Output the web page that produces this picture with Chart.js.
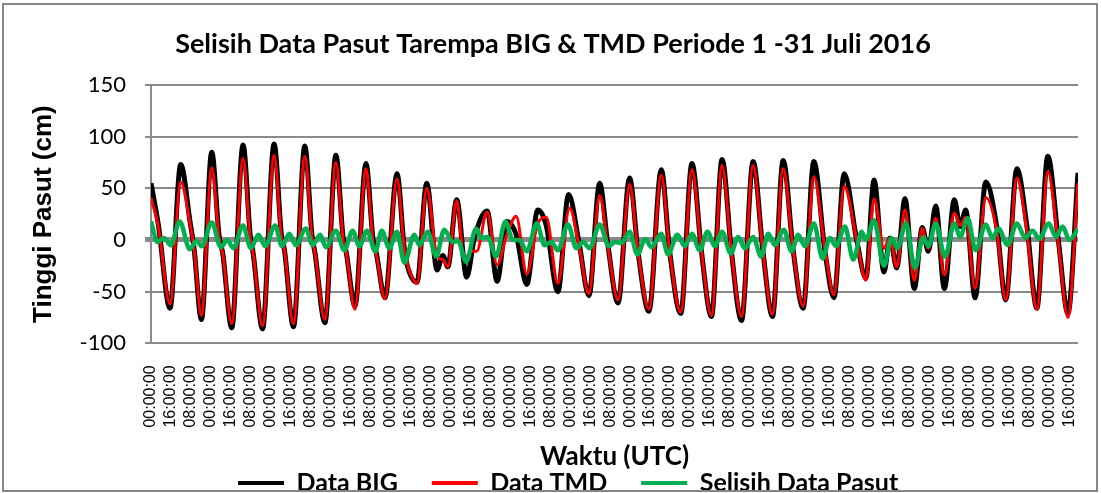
<!DOCTYPE html>
<html>
<head>
<meta charset="utf-8">
<script src="https://cdn.jsdelivr.net/npm/chart.js@4.4.0/dist/chart.umd.min.js"></script>
<style>
  html, body { margin: 0; padding: 0; background: #ffffff; }
  canvas { display: block; }
</style>
</head>
<body>
<canvas id="c" width="1101" height="493"></canvas>
<script>
// ---- Data (hours since 1 Juli 2016 00:00 UTC, tide height in cm) ----
const bigHours = [0,6,15.2,23.8,31.5,34.5,40.4,48.7,54.5,57.5,64.7,73.8,79.5,82,89.4,98.7,104.5,107,114.2,123.3,129,131.5,139.4,148.2,154,156.5,163.5,172.3,178,180.5,187.5,197.2,203,205.7,213.2,221,229.3,233.9,237.9,245,253,259.2,269.4,277.4,285.2,292.7,301.2,310,316.8,326.1,334.7,343,351,359.6,366,374.3,383.6,390.3,399.1,409,415.7,424.6,433.6,441.2,449.2,457.7,465.2,473.3,482.6,490.5,498.1,506.7,514.7,522.7,531.3,540.1,547.4,555.6,565.6,573,579.5,587.5,592.3,597.7,604.3,611.8,618.2,623,629,635.9,643.9,648.5,653,660.5,669.1,678,685.1,694,702,710,718.8,727.4,734.9,743];
const bigValues = [55,14,-66,73,16,-8,-77,85,5,-13,-85,92,5,-14,-86,93,5,-10,-84,91,5,-13,-80,82,2,-12,-64,74,0,-12,-56,64,-8,-26,-41,55,-29,-15,-26,39,-36,2,28,-40,18,5,-43,29,14,-50,44,-2,-54,55,-3,-61,60,-11,-69,68,-11,-71,74,-11,-74,78,-11,-78,76,-11,-74,77,-10,-66,76,-10,-56,64,0,-37,58,-31,2,-27,40,-47,12,-11,33,-47,39,13,29,-56,56,12,-58,69,14,-66,81,-2,-71,65];

const tmdHours = [0,6,15.2,23.8,31.5,34.5,40.4,48.7,54.5,57.5,64.7,73.8,79.5,82,89.4,98.7,104.5,107,114.2,123.3,129,131.5,139.4,148.2,154,156.5,163.5,172.3,178,180.5,187.5,197.2,203,205.7,213.2,221,229.3,233.9,237.9,245,251,257,261,269.4,277.4,285.2,292.7,301.2,310,316.8,326.1,335.5,343,351,359.6,366,374.3,383.6,390.3,399.1,409,415.7,424.6,433.6,441.2,449.2,457.7,465.2,473.3,482.6,490.5,498.1,506.7,514.7,522.7,531.3,540.1,547.4,555.6,565.6,573,579.5,587.5,592.3,597.7,604.3,611.8,618.2,623,629,635.9,643.9,648.5,653,660.5,669.1,678,685.1,694,702,710,718.8,727.4,734.9,743];
const tmdValues = [41,12,-62,56,14,-8,-73,70,3,-13,-81,79,2,-14,-83,82,3,-10,-81,81,3,-13,-77,75,0,-12,-67,69,-2,-13,-57,59,-8,-24,-42,50,-16,-19,-26,38,-19,-11,-11,27,-24,5,23,-33,16,22,-42,31,-5,-52,43,-5,-58,54,-11,-67,63,-11,-70,68,-11,-73,72,-11,-74,72,-11,-72,69,-10,-64,61,-8,-53,52,0,-39,40,-8,2,-26,29,-39,11,-8,21,-34,26,14,22,-47,41,8,-58,60,8,-67,66,-5,-75,55];

const difHours = [0,5.1,10.4,15.8,23,31,36.4,40.7,48.7,55.9,61.3,66,73.8,80,86.1,91.5,99.5,104.9,110.8,116.1,124.1,129.5,135.6,140.2,148.2,154.9,161.6,166.9,173.1,179.8,184.9,191,197.2,203.1,211.1,215.1,221.8,228.5,235.1,241.8,246,252.6,260.6,264.6,269.9,276.6,284.1,289.9,295.3,301.2,309.2,315.4,320.8,326.1,334.2,340.9,346.2,351.6,359.6,367,371.6,376.9,383.6,389.8,396.2,401,409,414.4,421.9,427.8,433.6,439.8,446,451.9,457.7,464.7,470.6,476,482.6,489,494.7,500,507.2,513.4,518.7,524.1,531.3,538.3,544.1,549,556.2,562.9,569.6,573,579.5,587.5,593.6,598.2,605.1,612.3,619,623,629,636.4,643.9,648.5,654.6,661,669.1,674.5,679.3,686.7,694,700.7,706.6,712,719.5,725.4,730.7,736.1,743];
const difValues = [18,-2,2,-5,18,-9,-1,-6,17,-7,0,-8,14,-8,5,-6,14,-6,6,-5,11,-5,5,-7,9,-10,9,-6,9,-11,9,-8,8,-22,5,-5,8,-16,10,-2,-1,-21,11,2,3,-16,18,0,0,-11,16,-5,-2,-10,15,-8,-2,-8,15,-6,-2,-3,8,-14,1,-7,6,-14,5,-6,6,-10,8,-6,8,-13,3,-8,3,-16,6,-5,10,-11,5,-6,16,-18,2,-6,13,-19,8,0,19,-25,2,-8,16,-27,3,-6,16,-16,16,3,21,-10,15,2,11,-5,16,2,9,1,16,3,13,0,11];

const tickHours = [0,16,32,48,64,80,96,112,128,144,160,176,192,208,224,240,256,272,288,304,320,336,352,368,384,400,416,432,448,464,480,496,512,528,544,560,576,592,608,624,640,656,672,688,704,720,736];
const tickLabelCycle = ['00:00:00', '16:00:00', '08:00:00'];
const yTicks = [-100, -50, 0, 50, 100, 150];

const seriesNames = ['Data BIG', 'Data TMD', 'Selisih Data Pasut'];
const chartTitle = 'Selisih Data Pasut Tarempa BIG & TMD Periode 1 -31 Juli 2016';
const yTitle = 'Tinggi Pasut (cm)';
const xTitle = 'Waktu (UTC)';

const toPts = (hs, vs) => hs.map((h, i) => ({ x: h, y: vs[i] }));

const GRID = '#8a8a8a';

const framePlugin = {
  id: 'frame',
  beforeDraw(chart) {
    const c = chart.ctx;
    c.save();
    c.fillStyle = '#ffffff';
    c.fillRect(0, 0, chart.width, chart.height);
    c.restore();
  },
  afterDraw(chart) {
    const c = chart.ctx;
    c.save();
    c.strokeStyle = '#868686';
    c.lineWidth = 2;
    c.strokeRect(3, 4, 1094, 487);
    c.restore();
  },
  afterLayout(chart) {
    const l = chart.legend;
    if (l && l.lineWidths) {
      const P = l.options.labels.padding;
      const start = (l.left + P + l.right - l.lineWidths[0]) / 2;
      const dx = start - 238;
      l.left -= dx; l.right -= dx;
      const dy = l.top - 436.5;
      l.top -= dy; l.bottom -= dy;
    }
    const xs = chart.scales.x;
    xs.bottom = 480;
    xs.height = xs.bottom - xs.top;
  }
};

new Chart(document.getElementById('c'), {
  type: 'line',
  data: {
    datasets: [
      { label: seriesNames[0], data: toPts(bigHours, bigValues), borderColor: '#000000', backgroundColor: '#000000',
        borderWidth: 5, pointRadius: 0, cubicInterpolationMode: 'monotone', order: 3 },
      { label: seriesNames[1], data: toPts(tmdHours, tmdValues), borderColor: '#ff0000', backgroundColor: '#ff0000',
        borderWidth: 3, pointRadius: 0, cubicInterpolationMode: 'monotone', order: 2 },
      { label: seriesNames[2], data: toPts(difHours, difValues), borderColor: '#00b050', backgroundColor: '#00b050',
        borderWidth: 4.5, pointRadius: 0, cubicInterpolationMode: 'monotone', order: 1 }
    ]
  },
  options: {
    responsive: false,
    animation: false,
    devicePixelRatio: 1,
    events: [],
    layout: { padding: { left: 28, right: 23, top: 0, bottom: 0 } },
    plugins: {
      tooltip: { enabled: false },
      title: {
        display: true,
        text: chartTitle,
        color: '#000000',
        font: { family: 'Lato', weight: 'bold', size: 27 },
        padding: { top: 28, bottom: 24.6 }
      },
      legend: {
        position: 'bottom',
        labels: {
          color: '#000000',
          font: { family: 'Lato', weight: 'bold', size: 25 },
          boxWidth: 46,
          boxHeight: 4,
          padding: 34,
          sort: (a, b) => a.datasetIndex - b.datasetIndex,
          generateLabels(chart) {
            const items = Chart.defaults.plugins.legend.labels.generateLabels(chart);
            items.forEach(it => { it.lineWidth = 0; it.fillStyle = it.strokeStyle; });
            return items;
          }
        }
      }
    },
    scales: {
      x: {
        type: 'linear',
        min: 0,
        max: 743,
        afterBuildTicks(s) { s.ticks = tickHours.map(v => ({ value: v })); },
        afterFit(s) { s.height = 493 - s.chart.legend.height - 343.3; },
        grid: { display: false, drawTicks: false },
        border: { display: false },
        ticks: {
          autoSkip: false,
          minRotation: 90,
          maxRotation: 90,
          padding: 22,
          color: '#000000',
          font: { family: 'Liberation Sans', size: 16, lineHeight: 0.2 },
          callback: (v, i) => tickLabelCycle[i % 3]
        },
        title: {
          display: true,
          text: xTitle,
          color: '#000000',
          font: { family: 'Lato', weight: 'bold', size: 26 },
          padding: { top: 0, bottom: 7.4 }
        }
      },
      y: {
        min: -100,
        max: 150,
        afterBuildTicks(s) { s.ticks = yTicks.map(v => ({ value: v })); },
        afterFit(s) { s.width = 123; },
        grid: {
          color: GRID,
          tickColor: GRID,
          tickLength: 6,
          lineWidth: ctx => (ctx.tick && ctx.tick.value === 0 ? 5 : 2)
        },
        border: { display: true, color: GRID, width: 2 },
        ticks: {
          padding: 19,
          color: '#000000',
          font: { family: 'Lato', size: 22 }
        },
        title: {
          display: true,
          text: yTitle,
          color: '#000000',
          font: { family: 'Liberation Sans', weight: 'bold', size: 26 },
          padding: { top: 0, bottom: 0 }
        }
      }
    }
  },
  plugins: [framePlugin]
});
</script>
</body>
</html>
